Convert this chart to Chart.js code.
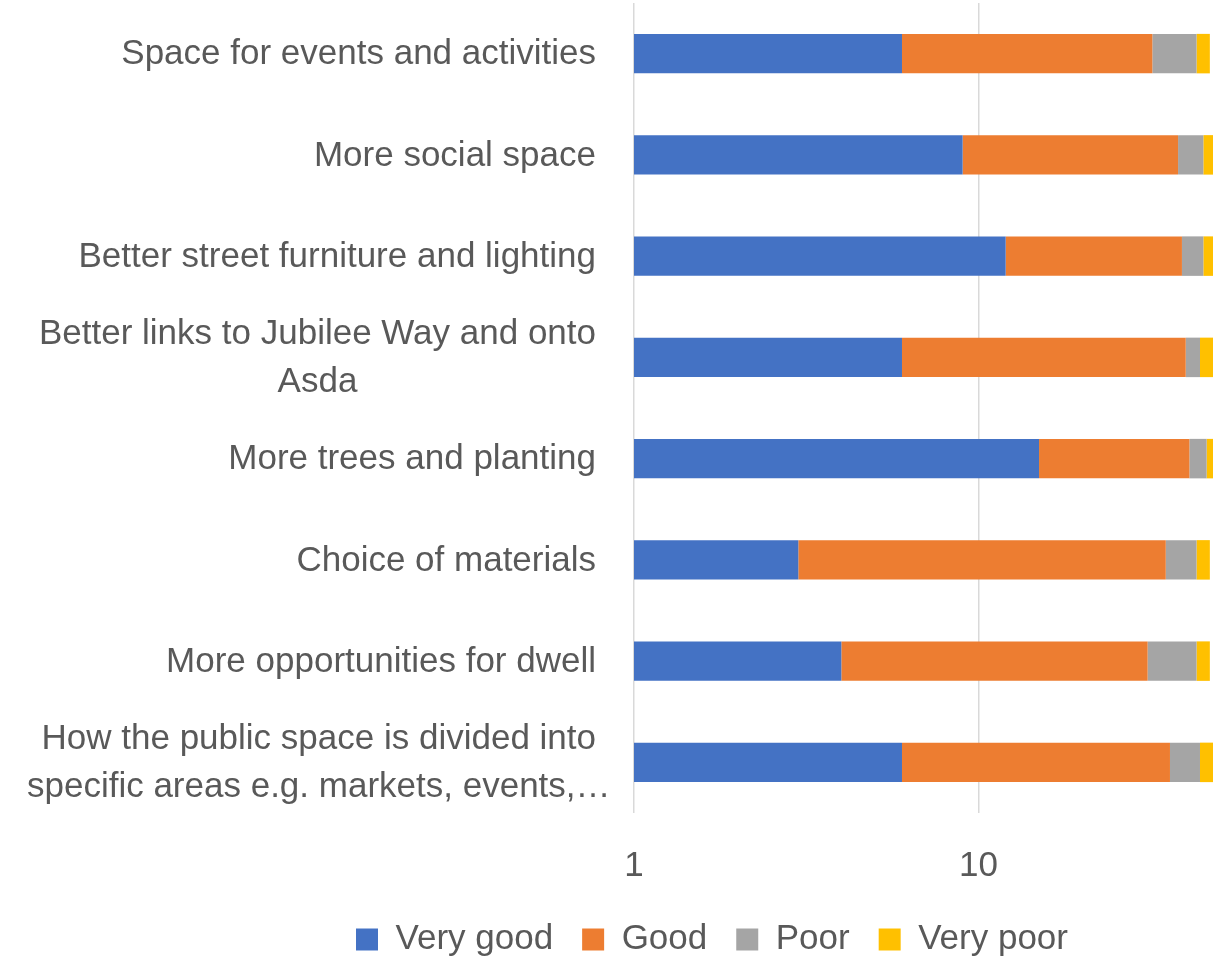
<!DOCTYPE html>
<html>
<head>
<meta charset="utf-8">
<script src="https://cdn.jsdelivr.net/npm/chart.js@4.4.1/dist/chart.umd.min.js"></script>
<style>
  html, body { margin: 0; padding: 0; background: #fff; }
  #wrap { width: 1213px; height: 968px; }
</style>
</head>
<body>
<div id="wrap"><canvas id="myChart"></canvas></div>
<script>
var categories = [
  ['Space for events and activities'],
  ['More social space'],
  ['Better street furniture and lighting'],
  ['Better links to Jubilee Way and onto', 'Asda'],
  ['More trees and planting'],
  ['Choice of materials'],
  ['More opportunities for dwell'],
  ['How the public space is divided into', 'specific areas e.g. markets, events,\u2026']
];
var veryGood = [6, 9, 12, 6, 15, 3, 4, 6];
var good     = [26, 29, 27, 34, 26, 32, 27, 30];
var poor     = [11, 7, 6, 4, 5, 8, 12, 8];
var veryPoor = [4, 3, 3, 4, 2, 4, 4, 4];
var tickValues = [1, 10];

var textColor = '#595959';
var fontFamily = "'Liberation Sans', Arial, sans-serif";
var padLeft = 211;

// category labels: right-aligned block, lines centered like Excel does
var yLabels = {
  id: 'yLabels',
  afterDraw: (chart) => {
    var ctx = chart.ctx;
    var yScale = chart.scales.y;
    var right = chart.chartArea.left - 38;
    ctx.save();
    ctx.font = '35px ' + fontFamily;
    ctx.fillStyle = textColor;
    ctx.textAlign = 'center';
    ctx.textBaseline = 'middle';
    categories.forEach((lines, i) => {
      var y = yScale.getPixelForValue(i) + 1;
      var lineH = 48;
      var cx = right - ctx.measureText(lines[0]).width / 2;
      var y0 = y - (lines.length - 1) * lineH / 2;
      lines.forEach((t, j) => {
        ctx.fillText(t, cx, y0 + j * lineH);
      });
    });
    ctx.restore();
  }
};

new Chart('myChart', {
  type: 'bar',
  plugins: [yLabels],
  data: {
    labels: categories,
    datasets: [
      { label: 'Very good', data: veryGood, backgroundColor: '#4472C4' },
      { label: 'Good', data: good, backgroundColor: '#ED7D31' },
      { label: 'Poor', data: poor, backgroundColor: '#A5A5A5' },
      { label: 'Very poor', data: veryPoor, backgroundColor: '#FFC000' }
    ]
  },
  options: {
    indexAxis: 'y',
    responsive: true,
    maintainAspectRatio: false,
    animation: false,
    layout: { padding: { left: padLeft, top: 3, right: 0, bottom: 1 } },
    datasets: {
      bar: { categoryPercentage: 1, barPercentage: 0.39, borderWidth: 0 }
    },
    scales: {
      x: {
        type: 'logarithmic',
        stacked: true,
        min: 1,
        max: 48,
        afterBuildTicks: (axis) => {
          axis.ticks = tickValues.map((v) => ({ value: v }));
        },
        grid: { color: '#D9D9D9', lineWidth: 1.5, drawTicks: true, tickLength: 26, tickColor: 'rgba(0,0,0,0)' },
        border: { display: false },
        ticks: {
          color: textColor,
          padding: 6,
          maxRotation: 0,
          font: { size: 35, family: fontFamily },
          callback: (v) => String(v)
        }
      },
      y: {
        stacked: true,
        grid: { display: false },
        border: { display: false },
        ticks: { display: false },
        afterFit: (scale) => { scale.width = 634 - padLeft; }
      }
    },
    plugins: {
      legend: {
        position: 'bottom',
        labels: {
          color: textColor,
          boxWidth: 22,
          boxHeight: 22,
          padding: 29,
          font: { size: 35, family: fontFamily }
        }
      },
      tooltip: { enabled: false }
    }
  }
});
</script>
</body>
</html>
